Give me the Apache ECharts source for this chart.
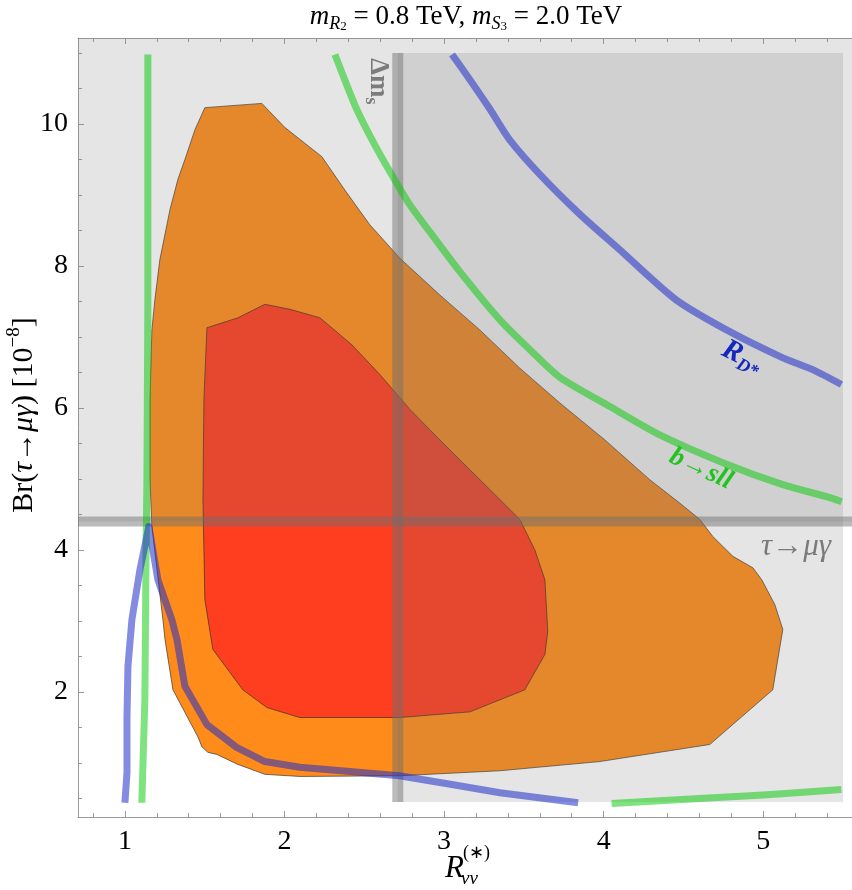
<!DOCTYPE html>
<html><head><meta charset="utf-8">
<script src="https://cdn.jsdelivr.net/npm/echarts@6/dist/echarts.min.js"></script>
<style>html,body{margin:0;padding:0;background:#fff}#c{width:852px;height:890px}</style>
</head><body><div id="c"></div>
<script>
// axis ranges and ticks
const X_MIN = 0.706, X_MAX = 5.594, Y_MIN = 0.239, Y_MAX = 11.211;
const xMajorTicks = [1, 2, 3, 4, 5];
const xMinorTicks = [0.8, 1.2, 1.4, 1.6, 1.8, 2.2, 2.4, 2.6, 2.8, 3.2, 3.4, 3.6, 3.8, 4.2, 4.4, 4.6, 4.8, 5.2, 5.4];
const yMajorTicks = [2, 4, 6, 8, 10];
const yMinorTicks = [0.5, 1, 1.5, 2.5, 3, 3.5, 4.5, 5, 5.5, 6.5, 7, 7.5, 8.5, 9, 9.5, 10.5, 11];

// fit regions (R_vv, Br)
const outerRegion = [[1.251,2.74],[1.238,3.02],[1.169,4.33],[1.157,4.99],[1.157,6.12],[1.169,7.10],[1.188,7.53],[1.219,8.09],[1.282,8.79],[1.332,9.22],[1.376,9.50],[1.439,9.92],[1.501,10.23],[1.858,10.29],[1.909,10.17],[2.003,9.95],[2.234,9.54],[2.378,9.07],[2.535,8.58],[2.723,8.11],[2.974,7.59],[3.224,7.10],[3.475,6.56],[3.726,6.07],[4.008,5.55],[4.289,4.99],[4.477,4.66],[4.603,4.43],[4.684,4.19],[4.810,3.91],[4.935,3.75],[4.991,3.58],[5.073,3.23],[5.123,2.88],[5.091,2.45],[5.060,2.03],[4.665,1.26],[3.976,1.02],[3.350,0.89],[2.723,0.82],[2.096,0.81],[1.877,0.84],[1.708,0.98],[1.576,1.12],[1.520,1.15],[1.482,1.23],[1.457,1.37],[1.301,2.03],[1.294,2.13]];
const innerRegion = [[1.514,7.13],[1.708,7.27],[1.877,7.46],[2.034,7.39],[2.222,7.27],[2.422,6.89],[2.598,6.47],[2.786,5.98],[2.974,5.55],[3.162,5.13],[3.350,4.71],[3.475,4.43],[3.569,4.00],[3.632,3.58],[3.650,2.85],[3.632,2.53],[3.506,2.03],[3.162,1.72],[2.723,1.64],[2.096,1.64],[1.890,1.78],[1.739,2.03],[1.551,2.60],[1.501,3.30],[1.489,4.71],[1.495,6.12]];

// constraint curves
const rdStarUpper = [[3.05,10.98],[3.16,10.63],[3.29,10.20],[3.41,9.78],[3.60,9.29],[3.85,8.73],[4.10,8.23],[4.45,7.53],[4.77,7.10],[5.12,6.71],[5.31,6.54],[5.49,6.33]];
const rdStarLower = [[1.000,0.44],[1.013,0.87],[1.013,1.65],[1.019,2.36],[1.044,3.02],[1.094,3.72],[1.150,4.33],[1.207,3.58],[1.294,3.02],[1.326,2.74],[1.376,2.08],[1.514,1.54],[1.700,1.22],[1.877,1.02],[2.096,0.94],[2.410,0.88],[2.720,0.82],[3.040,0.70],[3.350,0.58],[3.840,0.44]];
const bsllUpper = [[2.316,10.98],[2.378,10.62],[2.454,10.20],[2.548,9.78],[2.660,9.33],[2.786,8.86],[2.911,8.48],[3.099,7.92],[3.350,7.24],[3.538,6.82],[3.726,6.43],[4.039,6.02],[4.352,5.62],[4.747,5.23],[5.123,4.92],[5.398,4.75],[5.492,4.68]];
const bsllLeft = [[1.144,10.98],[1.144,7.52],[1.138,4.99],[1.132,3.86],[1.125,1.89],[1.106,0.44]];
const bsllLower = [[4.05,0.43],[4.60,0.50],[5.00,0.55],[5.23,0.585],[5.49,0.625]];

// exclusion limits
const tauLimit = 4.4;                 // Br(tau -> mu gamma) bound
const dmsLimit = 2.71;                // Delta m_s bound on R_vv
const scanX = [0.706, 5.5];           // scanned R range
const scanY = [0.45, 11.0];           // scanned Br range

const chart = echarts.init(document.getElementById('c'), null, {renderer: 'canvas'});
const SERIF = 'Liberation Serif';

function polygonSeries(pts, fill, stroke) {
  return {
    type: 'custom', coordinateSystem: 'cartesian2d', clip: true, silent: true,
    data: [pts[0]],
    renderItem: (params, api) => ({
      type: 'polygon',
      shape: {points: pts.map(p => api.coord(p))},
      style: {fill: fill, stroke: stroke || null, lineWidth: stroke ? 0.8 : 0}
    })
  };
}
function rectPts(x0, y0, x1, y1) { return [[x0,y0],[x1,y0],[x1,y1],[x0,y1]]; }
function lineSeries(data, color, width, smooth) {
  return {type: 'line', data: data, symbol: 'none', silent: true, clip: true, smooth: smooth || false,
    lineStyle: {color: color, width: width, cap: 'butt', join: 'round'}};
}
function xAxisDef(pos, ticks, len, labels, line) {
  return {type: 'value', min: X_MIN, max: X_MAX, position: pos,
    axisLine: {show: line, onZero: false, lineStyle: {color: '#9a9a9a', width: 1}},
    axisTick: {show: true, inside: true, length: len, customValues: ticks, lineStyle: {color: '#9a9a9a', width: 1}},
    axisLabel: labels ? {customValues: ticks, fontFamily: SERIF, fontSize: 28, color: '#000', margin: 11} : {show: false},
    splitLine: {show: false}};
}
function yAxisDef(pos, ticks, len, labels, line) {
  return {type: 'value', min: Y_MIN, max: Y_MAX, position: pos,
    axisLine: {show: line, onZero: false, lineStyle: {color: '#9a9a9a', width: 1}},
    axisTick: {show: true, inside: true, length: len, customValues: ticks, lineStyle: {color: '#9a9a9a', width: 1}},
    axisLabel: labels ? {customValues: ticks, fontFamily: SERIF, fontSize: 28, color: '#000', margin: 10} : {show: false},
    splitLine: {show: false}};
}

const overlay = 'rgba(119,119,119,0.19)';
const band = 'rgba(110,110,110,0.47)';
const blue = 'rgba(30,45,200,0.55)';
const green = 'rgba(0,200,0,0.5)';

const option = {
  animation: false,
  backgroundColor: '#fff',
  grid: {left: 78, right: -6, top: 38, bottom: 73, containLabel: false, outerBoundsMode: 'none'},
  xAxis: [
    xAxisDef('bottom', xMajorTicks, 6, true, true),
    xAxisDef('bottom', xMinorTicks, 4, false, false),
    xAxisDef('top', xMajorTicks, 6, false, true),
    xAxisDef('top', xMinorTicks, 4, false, false)
  ],
  yAxis: [
    yAxisDef('left', yMajorTicks, 6, true, true),
    yAxisDef('left', yMinorTicks, 4, false, false),
    yAxisDef('right', yMajorTicks, 6, false, true),
    yAxisDef('right', yMinorTicks, 4, false, false)
  ],
  series: [
    polygonSeries(outerRegion, '#ff8c1a', 'rgba(40,40,40,0.8)'),
    polygonSeries(innerRegion, '#ff3d1f', 'rgba(40,40,40,0.8)'),
    polygonSeries(rectPts(X_MIN, tauLimit, X_MAX, Y_MAX), overlay),
    polygonSeries(rectPts(dmsLimit, scanY[0], scanX[1], scanY[1]), overlay),
    lineSeries([[X_MIN, tauLimit], [X_MAX, tauLimit]], band, 10),
    lineSeries([[dmsLimit, scanY[0]], [dmsLimit, scanY[1]]], band, 11),
    lineSeries(bsllLeft, green, 7),
    lineSeries(bsllUpper, green, 7, 0.25),
    lineSeries(bsllLower, green, 7),
    lineSeries(rdStarLower, blue, 7),
    lineSeries(rdStarUpper, blue, 7, 0.25)
  ],
  graphic: [
    { type: 'text', x: 466, y: 17, z: 100,
      style: { text: '{i|m}{s|R}{ss|2}{n| = 0.8 TeV, }{i|m}{s|S}{ss|3}{n| = 2.0 TeV}', align: 'center', verticalAlign: 'middle',
        rich: {
          i: {fontFamily: SERIF, fontSize: 27, fontStyle: 'italic', fill: '#000', lineHeight: 32},
          n: {fontFamily: SERIF, fontSize: 27, fill: '#000', lineHeight: 32},
          s: {fontFamily: SERIF, fontSize: 18, fontStyle: 'italic', fill: '#000', lineHeight: 22, verticalAlign: 'bottom'},
          ss: {fontFamily: SERIF, fontSize: 13, fill: '#000', lineHeight: 11, verticalAlign: 'bottom'}
        } } },
    { type: 'text', x: 24, y: 415, rotation: Math.PI / 2, z: 100,
      style: { text: '{n|Br(}{i|τ→μγ}{n|) [10}{sup|−8}{n|]}', align: 'center', verticalAlign: 'middle',
        rich: {
          i: {fontFamily: SERIF, fontSize: 30, fontStyle: 'italic', fill: '#000', lineHeight: 38},
          n: {fontFamily: SERIF, fontSize: 30, fill: '#000', lineHeight: 38},
          sup: {fontFamily: SERIF, fontSize: 19, fill: '#000', lineHeight: 17, verticalAlign: 'top'}
        } } },
    { type: 'text', x: 464, y: 869, z: 100,
      style: { text: 'R', fontFamily: SERIF, fontSize: 31, fontStyle: 'italic', fill: '#000', align: 'right', verticalAlign: 'middle' } },
    { type: 'text', x: 463, y: 853, z: 100,
      style: { text: '(∗)', fontFamily: SERIF, fontSize: 18, fill: '#000', align: 'left', verticalAlign: 'middle' } },
    { type: 'text', x: 461, y: 879, z: 100,
      style: { text: 'νν', fontFamily: SERIF, fontSize: 19, fontStyle: 'italic', fill: '#000', align: 'left', verticalAlign: 'middle' } },
    { type: 'text', x: 378, y: 58, rotation: -Math.PI / 2, z: 100,
      style: { text: '{n|Δm}{s|s}', align: 'left', verticalAlign: 'middle',
        rich: {
          n: {fontFamily: SERIF, fontSize: 27, fontWeight: 'bold', fill: '#7c7c7c', lineHeight: 32},
          s: {fontFamily: SERIF, fontSize: 18, fontWeight: 'bold', fill: '#7c7c7c', lineHeight: 20, verticalAlign: 'bottom'}
        } } },
    { type: 'text', x: 742, y: 357, rotation: -0.46, z: 100,
      style: { text: '{n|R}{s|D*}', align: 'center', verticalAlign: 'middle',
        rich: {
          n: {fontFamily: SERIF, fontSize: 29, fontWeight: 'bold', fontStyle: 'italic', fill: '#1228c0', lineHeight: 34},
          s: {fontFamily: SERIF, fontSize: 18, fontWeight: 'bold', fontStyle: 'italic', fill: '#1228c0', lineHeight: 20, verticalAlign: 'bottom'}
        } } },
    { type: 'text', x: 701, y: 469, rotation: -0.43, z: 100,
      style: { text: 'b→sll', fontFamily: SERIF, fontSize: 27, fontWeight: 'bold', fontStyle: 'italic', fill: '#1fc41f', align: 'center', verticalAlign: 'middle' } },
    { type: 'text', x: 796, y: 547, z: 100,
      style: { text: 'τ→μγ', fontFamily: SERIF, fontSize: 31, fontStyle: 'italic', fill: '#7a7a7a', align: 'center', verticalAlign: 'middle' } }
  ]
};
chart.setOption(option);
</script>
</body></html>
